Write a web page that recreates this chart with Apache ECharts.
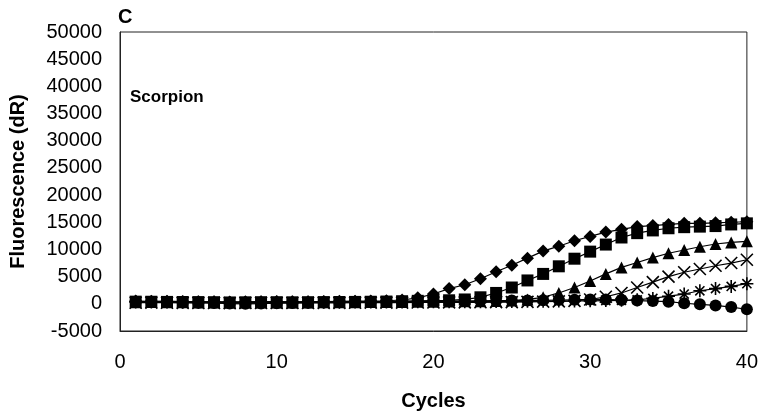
<!DOCTYPE html>
<html><head><meta charset="utf-8">
<script src="https://cdn.jsdelivr.net/npm/echarts@6/dist/echarts.min.js"></script>
<style>html,body{margin:0;padding:0;background:#fff}#c{width:761px;height:417px}</style>
</head><body><div id="c"></div>
<script>
const cycles = Array.from({length:40},(_,i)=>i+1);
const yTicks = [-5000,0,5000,10000,15000,20000,25000,30000,35000,40000,45000,50000];
const xTicks = [0,10,20,30,40];
const diamond = [500,450,480,420,400,380,350,380,400,420,380,400,420,450,480,520,560,700,1100,1800,2800,3500,4600,5900,7100,8400,9700,10600,11600,12400,13200,13700,14200,14400,14600,14800,14800,14900,15000,15100];
const square = [400,380,350,330,320,300,250,280,300,300,280,300,320,330,350,380,420,480,550,600,650,800,1200,2000,3000,4300,5500,6900,8300,9600,10900,12200,13000,13500,13900,14100,14200,14300,14600,14800];
const triangle = [300,320,300,280,260,250,220,240,250,260,250,260,270,280,300,320,330,350,380,400,420,450,480,520,600,800,1200,2000,3000,4200,5500,6700,7600,8500,9300,9900,10500,11000,11300,11500];
const cross = [200,220,200,180,160,150,120,140,150,160,150,160,170,180,200,210,220,230,240,250,260,270,280,300,320,350,400,450,550,800,1300,2000,3000,4000,5000,5800,6400,7000,7500,8100];
const asterisk = [350,330,320,300,280,270,250,260,270,280,270,280,290,300,320,330,340,350,360,370,380,390,400,420,440,460,480,500,520,550,600,650,750,1000,1400,1800,2400,2800,3200,3700];
const circle = [400,350,300,250,200,150,50,0,50,100,150,200,250,300,350,380,400,420,450,480,500,520,550,580,600,620,650,700,750,800,800,700,600,500,400,100,-100,-300,-600,-1000];

const FONT = 'Liberation Sans, Arial, sans-serif';
function mk(name, data, symbol, size, stroke) {
  return {
    name, type:'line', data: data.map((v,i)=>[cycles[i], v]),
    symbol, symbolSize: size, showAllSymbol: true,
    lineStyle:{color:'#000', width:1.2},
    itemStyle: stroke ? {color:'#000', borderColor:'#000', borderWidth:1.6} : {color:'#000', borderWidth:0},
    emphasis:{disabled:true}, animation:false
  };
}
const chart = echarts.init(document.getElementById('c'), null, {renderer:'canvas'});
chart.setOption({
  animation:false,
  backgroundColor:'#fff',
  grid:{left:120, right:11, top:32, bottom:86, show:true, borderColor:'#222', borderWidth:1},
  graphic:[
    {type:'text', left:118, top:7, style:{text:'C', font:'bold 20px '+FONT, fill:'#000'}},
    {type:'text', left:130, top:89, style:{text:'Scorpion', font:'bold 17px '+FONT, fill:'#000'}}
  ],
  xAxis:{type:'value', min:0, max:40, interval:10,
    name:'Cycles', nameLocation:'middle', nameGap:60,
    nameTextStyle:{fontFamily:FONT, fontWeight:'bold', fontSize:20, color:'#000'},
    axisLine:{onZero:false, lineStyle:{color:'#222', width:1}},
    axisTick:{show:false}, splitLine:{show:false},
    axisLabel:{fontFamily:FONT, fontSize:20, color:'#000', margin:21,
      formatter: v => xTicks.includes(v) ? String(v) : ''}
  },
  yAxis:{type:'value', min:-5000, max:50000, interval:5000,
    name:'Fluorescence (dR)', nameLocation:'middle', nameGap:92, nameRotate:90,
    nameTextStyle:{fontFamily:FONT, fontWeight:'bold', fontSize:20, color:'#000'},
    axisLine:{show:true, lineStyle:{color:'#222', width:1}},
    axisTick:{show:false}, splitLine:{show:false},
    axisLabel:{fontFamily:FONT, fontSize:20, color:'#000', margin:18,
      formatter: v => yTicks.includes(v) ? String(v) : ''}
  },
  series:[
    mk('diamond', diamond, 'diamond', 13),
    mk('square', square, 'rect', 12),
    mk('triangle', triangle, 'triangle', 12),
    mk('cross', cross, 'path://M0,0L10,10M10,0L0,10', 12, true),
    mk('asterisk', asterisk, 'path://M5,0L5,10M0,5L10,5M1.5,1.5L8.5,8.5M8.5,1.5L1.5,8.5', 13, true),
    mk('circle', circle, 'circle', 12)
  ]
});
</script></body></html>
